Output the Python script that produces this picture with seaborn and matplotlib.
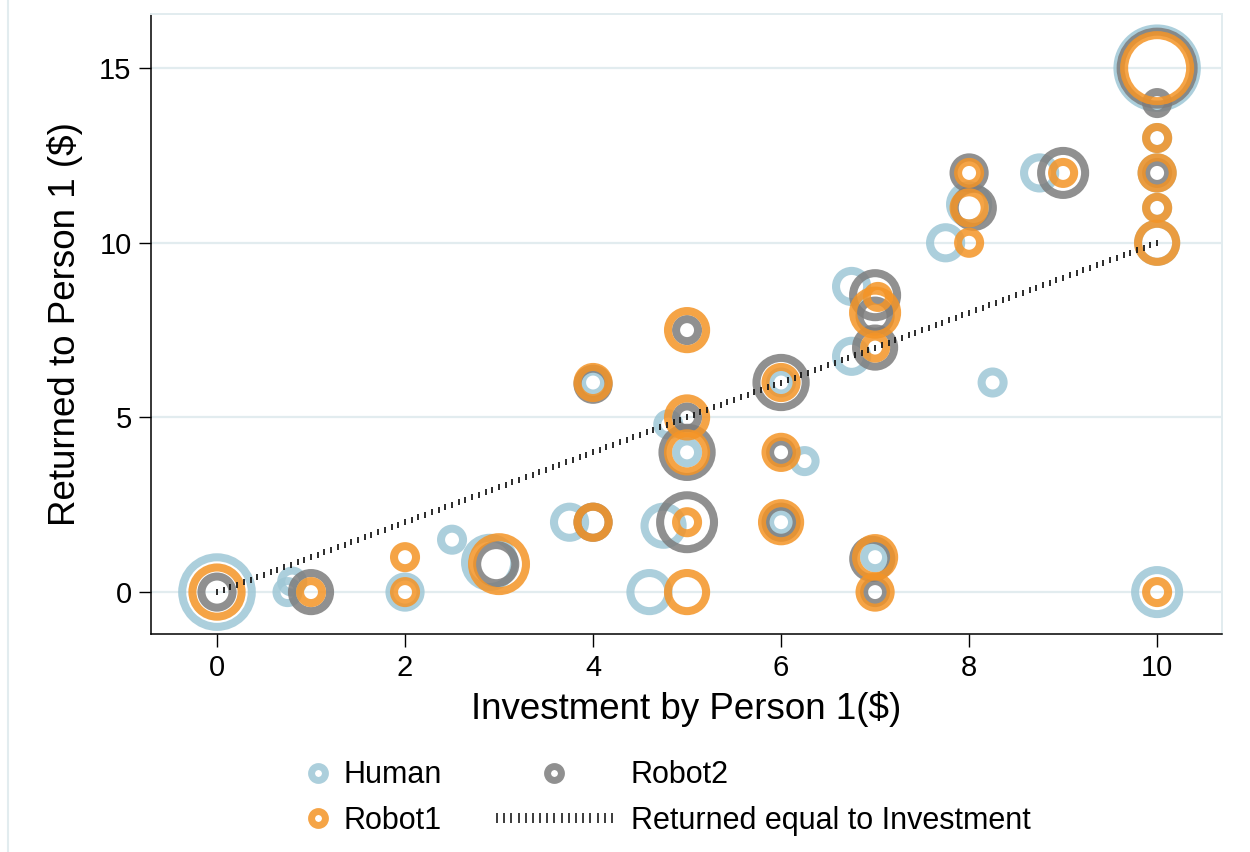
import numpy as np
import pandas as pd
import matplotlib
matplotlib.use("Agg")
import matplotlib.pyplot as plt
from matplotlib.lines import Line2D
from matplotlib.legend_handler import HandlerLine2D
import seaborn as sns

# ---------------- data ----------------
human_invest = [0, 0.75, 0.8, 2, 2.5, 2.9, 3.75, 4, 4.6, 4.75, 4.8, 5, 6, 6, 6.25,
                6.75, 6.75, 7, 7.75, 8, 8.25, 8.75, 10, 10, 10, 10, 10, 10]
human_return = [0, 0, 0.3, 0, 1.5, 0.85, 2, 6, 0, 1.9, 4.8, 4, 6, 2, 3.75,
                8.75, 6.75, 1, 10, 11.1, 6, 12, 15, 13, 12, 11, 10, 0]
human_n = [10, 1, 1, 2, 1, 5, 2, 1, 3, 3, 1, 1, 1, 1, 1,
           2, 2, 1, 2, 3, 1, 2, 13, 1, 2, 1, 3, 4]

robot2_invest = [0, 1, 2.97, 4, 4, 5, 5, 5, 5, 6, 6, 6, 6.97, 7, 7, 7, 7,
                 8, 8.05, 9, 10, 10, 10]
robot2_return = [0, 0, 0.8, 5.95, 2, 7.5, 5, 4, 2, 6, 4, 2, 0.95, 8.5, 7.9, 7, 0,
                 12, 11, 12, 15, 14, 12]
robot2_n = [2, 3, 3, 2, 2, 1, 1, 5, 6, 5, 1, 2, 3, 4, 2, 3, 1,
            2, 3, 4, 11, 1, 1]

robot1_invest = [0, 1, 2, 2, 3, 4, 4, 5, 5, 5, 5, 5, 6, 6, 6, 7.03, 7, 7, 7, 7,
                 8, 8, 8, 9, 10, 10, 10, 10, 10, 10]
robot1_return = [0, 0, 1, 0, 0.8, 6, 2, 7.5, 5, 4, 2, 0, 6, 4, 2, 8.45, 8, 7, 1, 0,
                 12, 11, 10, 12, 15, 13, 12, 11, 10, 0]
robot1_n = [5, 1, 1, 1, 6, 2, 2, 3, 3, 3, 1, 3, 2, 2, 3, 1, 4, 1, 3, 2,
            1, 2, 1, 1, 9, 1, 2, 1, 3, 1]

equality_range = [0, 10]

series_names = ["Human", "Robot2", "Robot1"]
x_ticks = [0, 2, 4, 6, 8, 10]
y_ticks = [0, 5, 10, 15]

# ---------------- style ----------------
sns.set_style("white")
plt.rcParams["font.family"] = ["Liberation Sans", "DejaVu Sans"]
plt.rcParams["text.color"] = "black"

ALPHA = 0.85
colors = {
    "Human": (0.62, 0.78, 0.84, ALPHA),
    "Robot2": (0.49, 0.49, 0.49, ALPHA),
    "Robot1": (0.955, 0.58, 0.15, ALPHA),
}
RING_LW = 5.8
SIZE_PER_N = 251.0
N_MAX = 13

fig = plt.figure(figsize=(12.5, 8.52), dpi=100)
ax = fig.add_axes([151 / 1250, 1 - 634 / 852, (1222 - 151) / 1250, (634 - 14) / 852])

frames = {
    "Human": pd.DataFrame({"invest": human_invest, "returned": human_return, "n": human_n}),
    "Robot2": pd.DataFrame({"invest": robot2_invest, "returned": robot2_return, "n": robot2_n}),
    "Robot1": pd.DataFrame({"invest": robot1_invest, "returned": robot1_return, "n": robot1_n}),
}

for name in series_names:
    df = frames[name]
    sns.scatterplot(data=df, x="invest", y="returned", size="n",
                    sizes=(0, SIZE_PER_N * N_MAX), size_norm=(0, N_MAX),
                    legend=False, ax=ax, zorder=3)
    coll = ax.collections[-1]
    coll.set_facecolor("none")
    coll.set_edgecolor(colors[name])
    coll.set_linewidth(RING_LW)

# equality reference line (y = x), drawn as short vertical ticks
eq = np.linspace(equality_range[0], equality_range[1], 141)
ax.plot(eq, eq, ls="none", marker="|", ms=4.5, mew=1.3, color="#1a1a1a", zorder=4)

ax.set_xlim(-0.702, 10.69)
ax.set_ylim(-1.20, 16.55)
ax.set_xticks(x_ticks)
ax.set_yticks(y_ticks)
ax.set_xticklabels([str(t) for t in x_ticks])
ax.set_yticklabels([str(t) for t in y_ticks])

ax.yaxis.grid(True, color="#e2ecef", lw=1.6, zorder=0)
ax.xaxis.grid(False)
ax.set_axisbelow(True)

for side in ["left", "bottom"]:
    ax.spines[side].set_color("black")
    ax.spines[side].set_linewidth(1.1)
for side in ["top", "right"]:
    ax.spines[side].set_color("#e2ecef")
    ax.spines[side].set_linewidth(1.4)

ax.tick_params(axis="both", direction="out", length=9, width=1, colors="black",
               labelsize=21, bottom=True, left=True)
ax.tick_params(axis="x", pad=5.5)
ax.tick_params(axis="y", pad=5)

ax.set_xlabel("Investment by Person 1($)", fontsize=26.5, color="black")
ax.set_ylabel("Returned to Person 1 ($)", fontsize=26.5, color="black")
ax.xaxis.set_label_coords(0.5, -0.092)
ax.yaxis.set_label_coords(-0.0635, 0.5)

# ---------------- legend ----------------
def ring_handle(name):
    return Line2D([], [], ls="none", marker="o", ms=10, mfc="none",
                  mec=colors[name], mew=5)

line_handle = Line2D([], [], ls="none", marker="|", ms=7, mew=1.2, color="#1a1a1a")

leg_y = 1 - 798 / 852
legA = fig.legend(handles=[ring_handle("Human"), ring_handle("Robot1")],
                  labels=["Human", "Robot1"], loc="center left",
                  bbox_to_anchor=(306 / 1250, leg_y), frameon=False, fontsize=22,
                  handlelength=0.8, handletextpad=0.42, labelspacing=0.5,
                  borderpad=0, borderaxespad=0, labelcolor="black")
legB = fig.legend(handles=[ring_handle("Robot2"), line_handle],
                  labels=["Robot2", "Returned equal to Investment"], loc="center left",
                  bbox_to_anchor=(497 / 1250, leg_y), frameon=False, fontsize=22,
                  handlelength=3.76, handletextpad=0.62, labelspacing=0.5,
                  borderpad=0, borderaxespad=0, labelcolor="black",
                  handler_map={line_handle: HandlerLine2D(numpoints=17, marker_pad=0)})

# light outer frame line on the left
fig.add_artist(Line2D([8 / 1250, 8 / 1250], [0, 1], transform=fig.transFigure,
                      color="#e2ecef", lw=1.5))

fig.savefig("out.png", dpi=100)
